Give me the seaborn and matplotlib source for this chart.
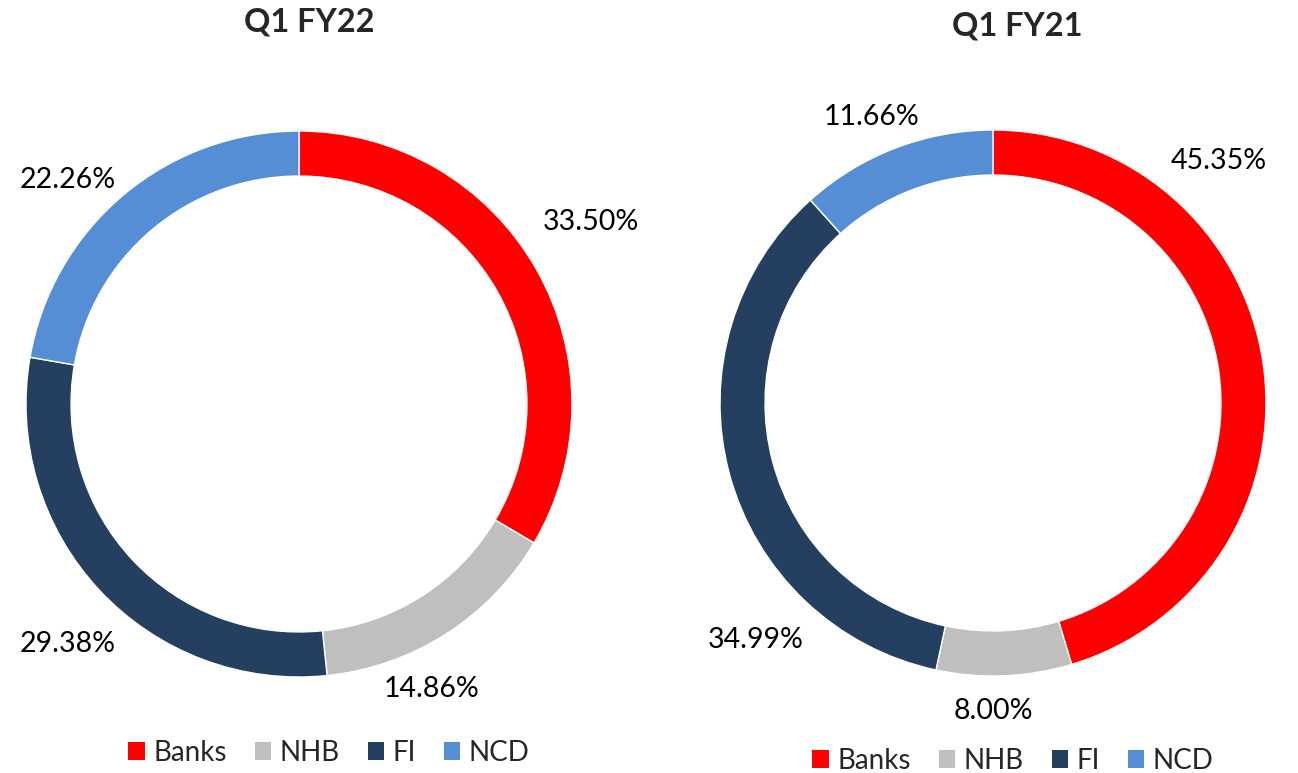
import numpy as np
import matplotlib.pyplot as plt
import seaborn as sns
from matplotlib.patches import Patch

# --------- data ---------
categories = ["Banks", "NHB", "FI", "NCD"]
share_fy22 = [33.50, 14.86, 29.38, 22.26]
share_fy21 = [45.35, 8.00, 34.99, 11.66]
titles = ["Q1 FY22", "Q1 FY21"]

colors = ["#FF0000", "#BFBFBF", "#243F60", "#558ED5"]

# label placement: (angle in degrees, distance in radii)
label_pos_fy22 = [(32, 1.26), (-65, 1.15), (-134, 1.22), (136, 1.18)]
label_pos_fy21 = [(47, 1.21), (-90, 1.13), (-135, 1.23), (113, 1.14)]

sns.set_theme(style="white")
plt.rcParams["font.family"] = ["Lato", "DejaVu Sans"]

W, H = 1298, 773
R = 273  # donut radius in pixels

fig = plt.figure(figsize=(W / 100, H / 100), dpi=100)


def donut(x0, x1, cx, cy, values, label_pos, title, title_xy, legend_xy):
    ax = fig.add_axes([x0 / W, 0, (x1 - x0) / W, 1])
    ax.pie(
        values,
        colors=colors,
        startangle=90,
        counterclock=False,
        radius=1,
        wedgeprops=dict(width=0.165, edgecolor="white", linewidth=1),
    )
    ax.set_aspect("auto")
    ax.set_xlim((x0 - cx) / R, (x1 - cx) / R)
    ax.set_ylim((cy - H) / R, cy / R)
    ax.axis("off")

    for v, (ang, d) in zip(values, label_pos):
        a = np.deg2rad(ang)
        ax.text(d * np.cos(a), d * np.sin(a), f"{v:.2f}%",
                ha="center", va="center", fontsize=20.5, color="#000000")

    fig.text(title_xy[0] / W, 1 - title_xy[1] / H, title,
             ha="center", va="center", fontsize=23.5, fontweight="bold")

    handles = [Patch(facecolor=c, edgecolor="none", label=n)
               for c, n in zip(colors, categories)]
    fig.legend(handles=handles, loc="center", ncol=4, frameon=False,
               bbox_to_anchor=(legend_xy[0] / W, 1 - legend_xy[1] / H),
               fontsize=20, handlelength=0.6, handleheight=0.6,
               handletextpad=0.3, columnspacing=1.0)


donut(0, 649, 299, 404, share_fy22, label_pos_fy22, titles[0], (309, 22), (329, 753))
donut(649, 1298, 993, 403, share_fy21, label_pos_fy21, titles[1], (1017, 26), (1013, 761))

fig.savefig("out.png", dpi=100)
